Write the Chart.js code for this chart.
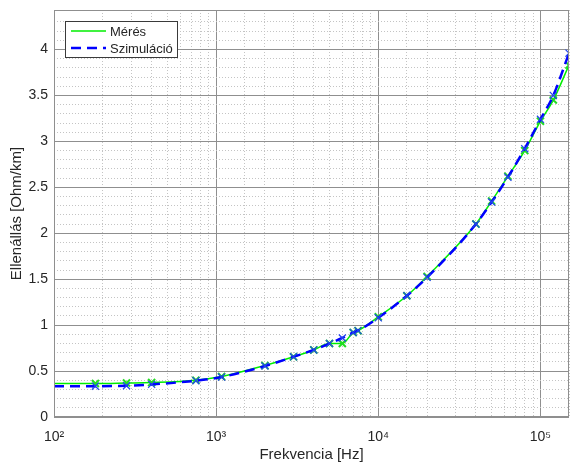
<!DOCTYPE html>
<html>
<head>
<meta charset="utf-8">
<script src="https://cdn.jsdelivr.net/npm/chart.js@4.4.1/dist/chart.umd.min.js"></script>
<style>
  html, body { margin: 0; padding: 0; background: #fff; }
</style>
</head>
<body>
<canvas id="c" width="570" height="465"></canvas>
<script>
// frequencies [Hz], shared by both series
const freq = [100, 180, 280, 400, 750, 1080, 2000, 3000, 4000, 5000, 6000, 7000, 7500,
  10000, 15000, 20000, 40000, 50000, 63000, 80000, 100000, 120000, 150000];
// measured resistance [Ohm/km]
const measured = [0.365, 0.365, 0.37, 0.375, 0.40, 0.44, 0.56, 0.655, 0.73, 0.80, 0.80, 0.92, 0.94,
  1.09, 1.32, 1.53, 2.10, 2.35, 2.62, 2.90, 3.22, 3.45, 3.83];
// simulated resistance [Ohm/km]
const simulated = [0.335, 0.335, 0.34, 0.355, 0.395, 0.435, 0.555, 0.655, 0.73, 0.80, 0.86, 0.92, 0.94,
  1.08, 1.32, 1.52, 2.10, 2.34, 2.61, 2.92, 3.24, 3.50, 3.96];

const seriesLabels = ['Mérés', 'Szimuláció'];
const supDigits = { 2: '²', 3: '³', 4: '⁴', 5: '⁵' };

const MAJOR = '#8f8f8f';
const MINOR = '#c4c4c4';
const TEXT = '#262626';

Chart.defaults.font.family = '"Liberation Sans", Arial, Helvetica, sans-serif';
Chart.defaults.color = TEXT;

const isPow10 = v => {
  if (!v) return false;
  const e = Math.log10(v);
  return Math.abs(e - Math.round(e)) < 1e-9;
};
const isHalf = v => Math.abs(v * 2 - Math.round(v * 2)) < 1e-6;

const toPoints = ys => freq.map((f, i) => ({ x: f, y: ys[i] }));

// no extra room for end labels, the layout padding decides
const noEdgePadding = s => {
  s.paddingLeft = 0; s.paddingRight = 0; s.paddingTop = 0; s.paddingBottom = 0;
};

// box round the plot area + legend inside it (top left)
const boxAndLegend = {
  id: 'boxAndLegend',
  afterDraw(chart) {
    const { ctx, chartArea: a } = chart;
    ctx.save();
    ctx.strokeStyle = MAJOR;
    ctx.lineWidth = 1;
    ctx.setLineDash([]);
    ctx.strokeRect(a.left + 0.5, a.top + 0.5, a.right - a.left - 1, a.bottom - a.top - 1);

    const x = a.left + 11, y = a.top + 11, w = 112, h = 36;
    ctx.fillStyle = '#fff';
    ctx.fillRect(x, y, w, h);
    ctx.strokeStyle = '#3a3a3a';
    ctx.strokeRect(x + 0.5, y + 0.5, w, h);

    ctx.font = '13px "Liberation Sans", Arial, sans-serif';
    ctx.textBaseline = 'middle';
    chart.data.datasets.filter(d => d.label).forEach((d, i) => {
      const ry = y + 10 + i * 17;
      ctx.beginPath();
      ctx.strokeStyle = d.borderColor;
      ctx.lineWidth = d.borderWidth;
      ctx.setLineDash(d.borderDash || []);
      ctx.moveTo(x + 6, ry);
      ctx.lineTo(x + 41, ry);
      ctx.stroke();
      ctx.setLineDash([]);
      ctx.fillStyle = TEXT;
      ctx.fillText(d.label, x + 45, ry + 1);
    });
    ctx.restore();
  }
};

const noFirstMarker = ctx => (ctx.dataIndex === 0 ? 0 : 5);

new Chart(document.getElementById('c').getContext('2d'), {
  type: 'line',
  data: {
    datasets: [
      {
        label: seriesLabels[0],
        data: toPoints(measured),
        borderColor: '#00ee00',
        backgroundColor: '#00ee00',
        borderWidth: 1.5,
        cubicInterpolationMode: 'monotone',
        pointStyle: 'crossRot',
        pointRadius: noFirstMarker,
        pointBorderColor: '#22dd22',
        pointBorderWidth: 2,
        order: 2
      },
      {
        label: seriesLabels[1],
        data: toPoints(simulated),
        borderColor: '#0000ff',
        backgroundColor: '#0000ff',
        borderWidth: 2.5,
        borderDash: [10, 6],
        cubicInterpolationMode: 'monotone',
        pointStyle: 'crossRot',
        pointRadius: noFirstMarker,
        pointBorderColor: '#2244ee',
        pointBorderWidth: 1.2,
        order: 1
      }
    ]
  },
  options: {
    responsive: false,
    animation: false,
    layout: { autoPadding: false, padding: { left: 0, right: 1, top: 10, bottom: 0 } },
    plugins: {
      legend: { display: false },
      tooltip: { enabled: false }
    },
    scales: {
      x: {
        type: 'logarithmic',
        min: 100,
        max: 150000,
        afterFit: s => { s.height = 48; noEdgePadding(s); },
        border: {
          display: false,
          dash: ctx => (ctx.tick && !isPow10(ctx.tick.value) ? [1, 2] : [])
        },
        grid: {
          drawTicks: false,
          color: ctx => (ctx.tick && isPow10(ctx.tick.value) ? MAJOR : MINOR),
          lineWidth: 1
        },
        ticks: {
          autoSkip: false,
          maxRotation: 0,
          padding: 12,
          font: { size: 14 },
          callback: v => (isPow10(v) ? '10' + supDigits[Math.round(Math.log10(v))] : '')
        },
        title: {
          display: true,
          text: 'Frekvencia [Hz]',
          font: { size: 15 },
          padding: { top: 0, bottom: 1 }
        }
      },
      y: {
        min: 0,
        max: 4.43,
        afterFit: s => { s.width = 54; noEdgePadding(s); },
        border: {
          display: false,
          dash: ctx => (ctx.tick && !isHalf(ctx.tick.value) ? [1, 2] : [])
        },
        grid: {
          drawTicks: false,
          color: ctx => (ctx.tick && isHalf(ctx.tick.value) ? MAJOR : MINOR),
          lineWidth: 1
        },
        ticks: {
          stepSize: 0.1,
          autoSkip: false,
          padding: 6,
          font: { size: 14 },
          callback: v => (isHalf(v) && v < 4.41 ? String(Math.round(v * 10) / 10) : '')
        },
        title: {
          display: true,
          text: 'Ellenállás [Ohm/km]',
          font: { size: 15 },
          padding: { top: 8, bottom: 0 }
        }
      }
    }
  },
  plugins: [boxAndLegend]
});
</script>
</body>
</html>
